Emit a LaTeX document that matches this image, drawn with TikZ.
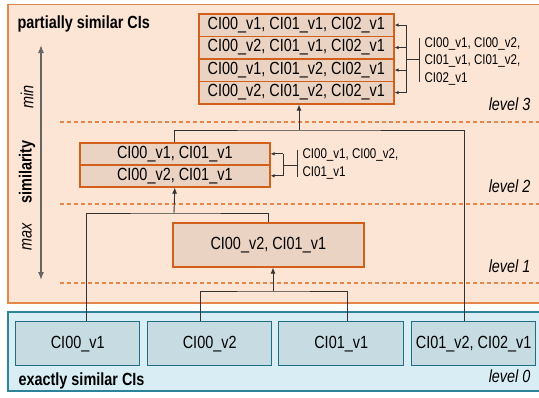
\documentclass[tikz,border=0pt]{standalone}
\usepackage{fontspec}
\setmainfont{Liberation Sans}[FakeStretch=0.82]
\usetikzlibrary{arrows.meta}
\definecolor{obg}{HTML}{FDE5D5}
\definecolor{oedge}{HTML}{E5874A}
\definecolor{ofill}{HTML}{EBD3C4}
\definecolor{obox}{HTML}{D2601A}
\definecolor{bbg}{HTML}{D9EEF4}
\definecolor{bedge}{HTML}{2E8299}
\definecolor{bfill}{HTML}{C6DCE2}
\definecolor{bbox}{HTML}{1F6E84}
\definecolor{conn}{HTML}{333333}
\tikzset{
  big/.style={font=\fontsize{17.6}{20}\selectfont},
  small/.style={font=\fontsize{14.1}{17.5}\selectfont},
  obx/.style={big, draw=obox, fill=ofill, line width=1.6pt, inner sep=0pt, anchor=north west},
  bbx/.style={big, draw=bbox, fill=bfill, line width=1.4pt, inner sep=0pt, anchor=north west, minimum height=44pt},
  conline/.style={draw=conn, line width=0.9pt},
  arr/.style={conline, -{Latex[length=6pt,width=5pt]}},
  sarr/.style={conline, -{Latex[length=4pt,width=3.5pt]}},
  dash line/.style={draw=oedge, line width=1.1pt, dash pattern=on 4pt off 3pt},
  lvl/.style={font=\fontsize{17.6}{20}\selectfont\itshape, anchor=east},
}
\begin{document}
\begin{tikzpicture}[x=1pt,y=-1pt]
\useasboundingbox (0,0) rectangle (539,397);
% backgrounds
\draw[fill=obg, draw=oedge, line width=1.2pt] (8,4.5) rectangle (560,303);
\draw[fill=bbg, draw=bedge, line width=1.2pt] (8,312) rectangle (560,391);
% dashed level separators
\draw[dash line] (60,122) -- (539,122);
\draw[dash line] (60,204) -- (539,204);
\draw[dash line] (60,283) -- (539,283);
% titles
\node[font=\fontsize{17.6}{20}\selectfont\bfseries, anchor=west] (t1) at (14,24) {partially similar CIs};
\node[font=\fontsize{17.6}{20}\selectfont\bfseries, anchor=west] (t0) at (15,381) {exactly similar CIs};
% similarity axis
\coordinate (st) at (41,45);
\coordinate (sb) at (41,280);
\draw[draw=gray!80!black, line width=1.2pt, {Latex[length=8pt,width=6pt]}-{Latex[length=8pt,width=6pt]}] (st) -- (sb);
\node[rotate=90, font=\fontsize{17.6}{20}\selectfont\itshape] (mn) at (27,97) {min};
\node[rotate=90, font=\fontsize{17.6}{20}\selectfont\bfseries] (sim) at (27,172) {similarity};
\node[rotate=90, font=\fontsize{17.6}{20}\selectfont\itshape] (mx) at (27,237) {max};
% level labels
\node[lvl] (L3) at (534,104) {level 3};
\node[lvl] (L2) at (534,186) {level 2};
\node[lvl] (L1) at (534,266) {level 1};
\node[lvl] (L0) at (534,376) {level 0};
% level 3
\node[obx, minimum width=195pt, minimum height=22.5pt] (r3a) at (198,13) {CI00\_v1, CI01\_v1, CI02\_v1};
\node[obx, minimum width=195pt, minimum height=22.5pt] (r3b) at (198,35.5) {CI00\_v2, CI01\_v1, CI02\_v1};
\node[obx, minimum width=195pt, minimum height=22.5pt] (r3c) at (198,58) {CI00\_v1, CI01\_v2, CI02\_v1};
\node[obx, minimum width=195pt, minimum height=22.5pt] (r3d) at (198,80.5) {CI00\_v2, CI01\_v2, CI02\_v1};
% level 2
\node[obx, minimum width=190pt, minimum height=22pt] (r2a) at (79,142) {CI00\_v1, CI01\_v1};
\node[obx, minimum width=190pt, minimum height=22pt] (r2b) at (79,164) {CI00\_v2, CI01\_v1};
% level 1
\node[obx, minimum width=191pt, minimum height=44pt] (l1) at (172,222) {CI00\_v2, CI01\_v1};
% level 0
\node[bbx, minimum width=124pt] (b0a) at (15,321) {CI00\_v1};
\node[bbx, minimum width=124pt] (b0b) at (147,321) {CI00\_v2};
\node[bbx, minimum width=125pt] (b0c) at (278,321) {CI01\_v1};
\node[bbx, minimum width=124pt] (b0d) at (411,321) {CI01\_v2, CI02\_v1};
% level 3 annotation
\coordinate (b3) at (406,0);
\coordinate (k3) at (419,0);
\draw[conline] (r3a.east -| b3) -- (r3d.east -| b3);
\foreach \n in {r3a,r3b,r3c,r3d} \draw[sarr] (\n.east -| b3) -- (\n.east);
\draw[conline] (r3b.south -| b3) -- (r3b.south -| k3);
\draw[conline] (419,38) -- (419,82);
\node[small, anchor=west, align=left] (n3) at (421,61) {CI00\_v1, CI00\_v2,\\CI01\_v1, CI01\_v2,\\CI02\_v1};
% level 2 annotation
\coordinate (b2) at (283,0);
\coordinate (k2) at (297,0);
\draw[conline] (r2a.east -| b2) -- (r2b.east -| b2);
\foreach \n in {r2a,r2b} \draw[sarr] (\n.east -| b2) -- (\n.east);
\draw[conline] (r2a.south -| b2) -- (r2a.south -| k2);
\draw[conline] (297,150) -- (297,177);
\node[small, anchor=west, align=left] (n2) at (299,164) {CI00\_v1, CI00\_v2,\\CI01\_v1};
% level 0 -> level 1
\coordinate (j1) at (273,291);
\draw[conline] ([xshift=-9.5pt]b0b.north) |- (j1) -| ([xshift=6.5pt]b0c.north);
\draw[arr] (j1) -- (l1.south -| j1);
% level 1 -> level 2
\coordinate (j2) at (174,213);
\draw[conline] ([xshift=9pt]b0a.north) |- (j2) -| (l1.north);
\draw[arr] (j2) -- (r2b.south);
% level 2 -> level 3
\coordinate (j3) at (299,130);
\draw[conline] (r2a.north) |- (j3) -| ([xshift=-9pt]b0d.north);
\draw[arr] (j3) -- (r3d.south -| j3);
\end{tikzpicture}
\end{document}
